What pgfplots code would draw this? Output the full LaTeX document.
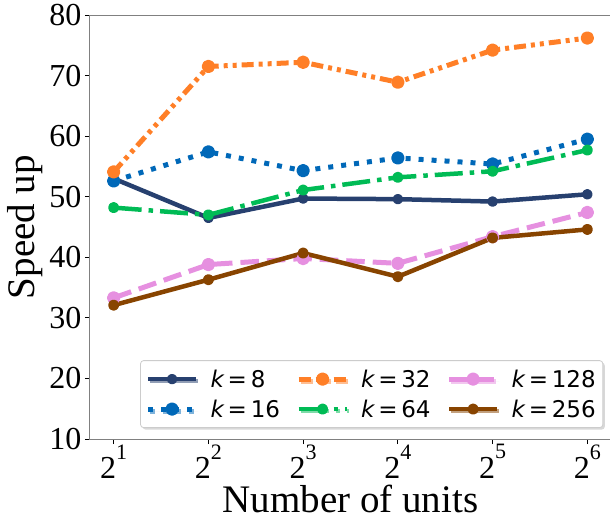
\documentclass[border=0pt]{standalone}
\usepackage{pgfplots}
\pgfplotsset{compat=1.18}
\usepackage{fontspec}
\setmainfont{Liberation Serif}
\newfontfamily\dejavu{DejaVu Sans}
\usetikzlibrary{shadows}
\definecolor{cnavy}{HTML}{27406F}
\definecolor{cblue}{HTML}{0068B8}
\definecolor{corange}{HTML}{FF7F27}
\definecolor{cgreen}{HTML}{00BB55}
\definecolor{cpink}{HTML}{E690E0}
\definecolor{cbrown}{HTML}{884400}
\newcommand\xt[1]{2\raisebox{0.62em}{\fontsize{22}{22}\selectfont #1}}
\newcommand\kk[1]{{\dejavu\itshape k}{\dejavu\,=\,#1}}
\begin{document}
\begin{tikzpicture}
\begin{axis}[
  at={(0,0)}, anchor=south west,
  scale only axis, width=521pt, height=424pt,
  xmin=0.75, xmax=6.25, ymin=10, ymax=80,
  xtick={1,2,3,4,5,6},
  xticklabels={\xt{1},\xt{2},\xt{3},\xt{4},\xt{5},\xt{6}},
  ytick={10,20,...,80},
  tick pos=left, tick align=outside, major tick length=5pt,
  tick style={black, line width=0.8pt},
  axis line style={line width=1pt},
  y axis line style={gray},
  ticklabel style={font=\fontsize{32}{32}\selectfont},
  xticklabel style={yshift=3pt},
  /pgf/number format/assume math mode=true,
  xlabel={Number of units}, ylabel={Speed up},
  label style={font=\fontsize{39}{39}\selectfont},
  xlabel style={yshift=1pt},
  legend columns=2, transpose legend,
  legend cell align=left,
  legend style={at={(rel axis cs:0.985,0.026)}, anchor=south east,
    draw=gray!40, rounded corners=3pt, line width=0.8pt,
    drop shadow={shadow xshift=2pt, shadow yshift=-2pt, fill=gray!60},
    font=\fontsize{23}{27}\selectfont,
    inner xsep=5pt, inner ysep=7pt, row sep=7pt,
    /tikz/every even column/.append style={column sep=14pt},
    /tikz/every odd column/.append style={column sep=10pt}},
  legend image code/.code={\draw[mark repeat=2,mark phase=2] plot coordinates {(0pt,0pt) (24pt,0pt) (48pt,0pt)};},
  every axis plot/.append style={line join=round},
]
\addplot[cnavy, line width=4.5pt, mark=*, mark size=3pt, mark options={solid}]
  coordinates {(1,53.0)(2,46.5)(3,49.7)(4,49.6)(5,49.2)(6,50.4)};
\addplot[cblue, line width=5pt, dash pattern=on 5pt off 8pt, mark=*, mark size=4.2pt, mark options={solid}]
  coordinates {(1,52.6)(2,57.4)(3,54.3)(4,56.4)(5,55.4)(6,59.5)};
\addplot[corange, line width=5pt, dash pattern=on 12pt off 5pt on 4pt off 5pt on 4pt off 5pt, mark=*, mark size=4.2pt, mark options={solid}]
  coordinates {(1,54.1)(2,71.5)(3,72.2)(4,68.9)(5,74.2)(6,76.2)};
\addplot[cgreen, line width=4.5pt, dash pattern=on 28pt off 7pt on 4.5pt off 7pt, mark=*, mark size=3.3pt, mark options={solid}]
  coordinates {(1,48.2)(2,47.0)(3,51.1)(4,53.2)(5,54.2)(6,57.7)};
\addplot[cpink, line width=5pt, dash pattern=on 18.5pt off 8pt, mark=*, mark size=4.2pt, mark options={solid}]
  coordinates {(1,33.3)(2,38.8)(3,39.8)(4,39.0)(5,43.4)(6,47.4)};
\addplot[cbrown, line width=4.5pt, mark=*, mark size=3.3pt, mark options={solid}]
  coordinates {(1,32.1)(2,36.3)(3,40.7)(4,36.8)(5,43.2)(6,44.6)};
\legend{\kk{8},\kk{16},\kk{32},\kk{64},\kk{128},\kk{256}}
\end{axis}
\pgfresetboundingbox
\path[use as bounding box] (-90pt,-84pt) rectangle (520pt,439pt);
\end{tikzpicture}
\end{document}
